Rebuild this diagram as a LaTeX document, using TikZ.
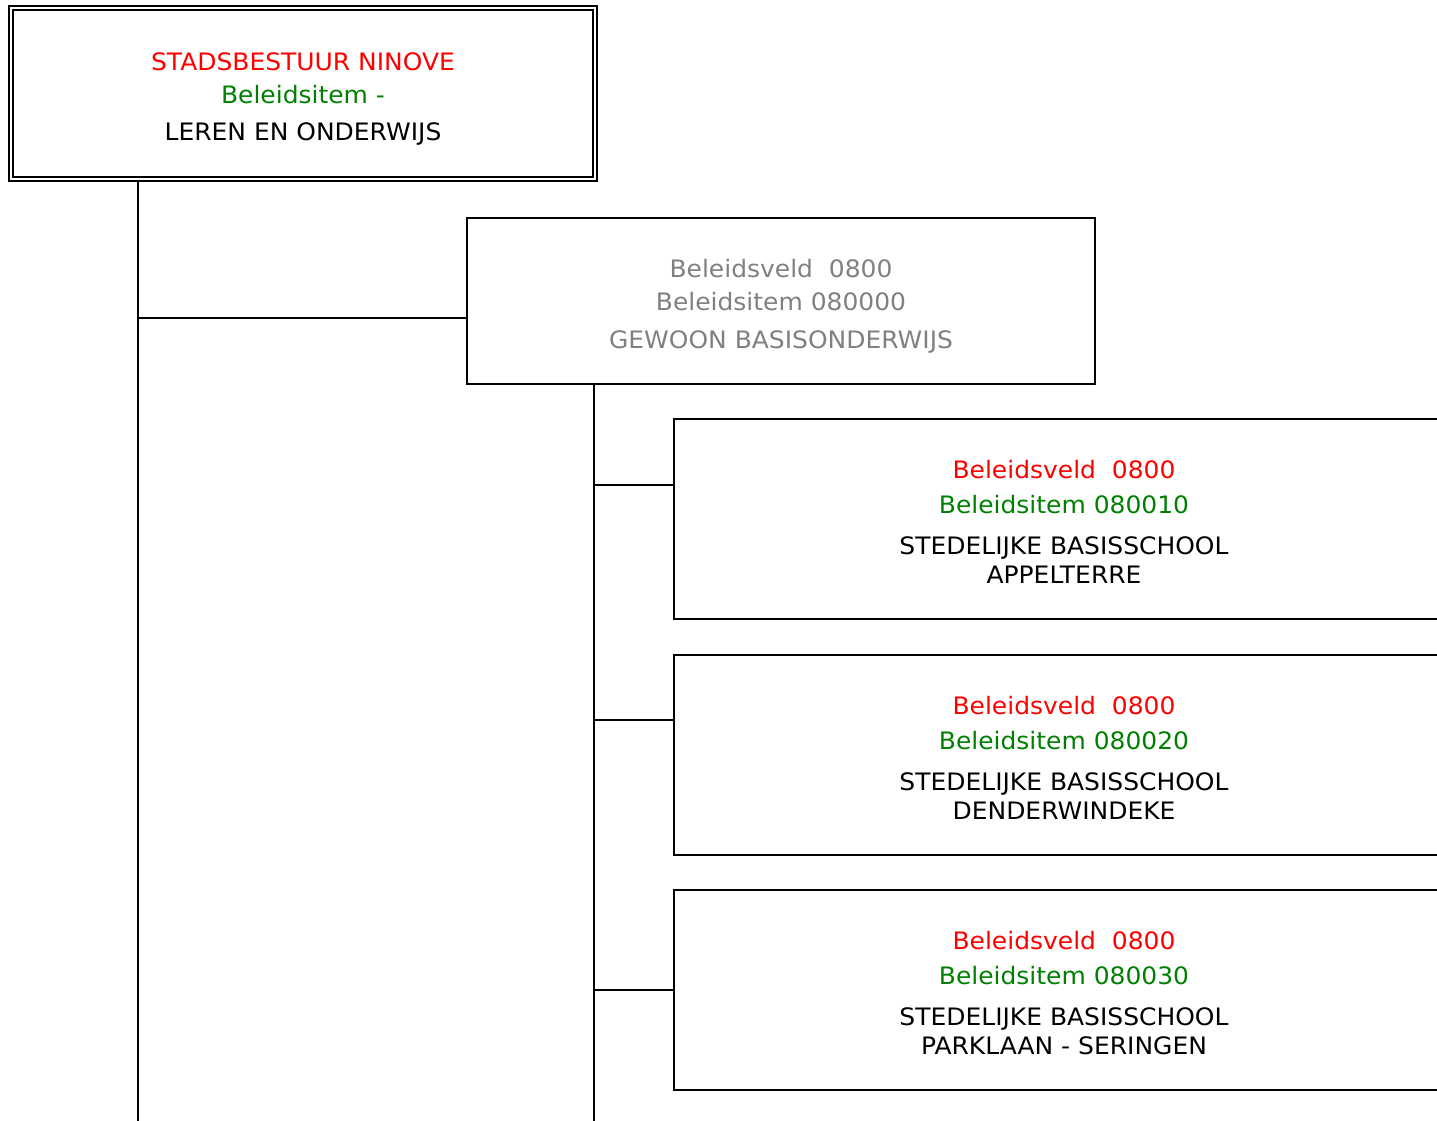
\documentclass[tikz,border=0pt]{standalone}
\usepackage{fontspec}
\setmainfont[FakeStretch=1.04]{DejaVu Sans}
\usepackage{tikz}
\usetikzlibrary{positioning}
\definecolor{veld}	{rgb}	{	1.0	,	0.0	,	0.0	}
\definecolor{item}	{rgb}	{	0.0	,	0.5	,	0.0	}
\definecolor{grijs}	{rgb}	{	0.5	,	0.5	,	0.5	}

\begin{document}
\begin{tikzpicture}[x=1pt, y=-1pt, line width=2pt,
  every node/.append style={draw, rectangle, align=center, inner sep=0pt,
    font=\fontsize{24}{29}\selectfont},
  item/.style={minimum width=780pt, minimum height=200pt}]
  \useasboundingbox (0,0) rectangle (1437,1121);

  \node (top) at (303, 93.5)
        [minimum width=584pt, minimum height=171pt, line width=1.5pt,
         double, double distance=2.5pt]
        {\rule{0pt}{28pt}\textcolor{veld}{STADSBESTUUR NINOVE}\\[4pt]
         \textcolor{item}{Beleidsitem -}\\[8pt]
         LEREN EN ONDERWIJS};

  \node (veld) at (781, 301) [minimum width=628pt, minimum height=166pt]
        {\rule{0pt}{28pt}\textcolor{grijs}{Beleidsveld\ \ 0800}\\[4pt]
         \textcolor{grijs}{Beleidsitem 080000}\\[9pt]
         \textcolor{grijs}{GEWOON BASISONDERWIJS}};

  \node (sbs1) at (1064, 519) [item]
        {\rule{0pt}{24pt}\textcolor{veld}{Beleidsveld\ \ 0800}\\[6pt]
         \textcolor{item}{Beleidsitem 080010}\\[12pt]
         STEDELIJKE BASISSCHOOL\\
         APPELTERRE};
  \node (sbs2) at (1064, 755) [item]
        {\rule{0pt}{24pt}\textcolor{veld}{Beleidsveld\ \ 0800}\\[6pt]
         \textcolor{item}{Beleidsitem 080020}\\[12pt]
         STEDELIJKE BASISSCHOOL\\
         DENDERWINDEKE};
  \node (sbs3) at (1064, 990) [item]
        {\rule{0pt}{24pt}\textcolor{veld}{Beleidsveld\ \ 0800}\\[6pt]
         \textcolor{item}{Beleidsitem 080030}\\[12pt]
         STEDELIJKE BASISSCHOOL\\
         PARKLAAN - SERINGEN};

  \coordinate (stam1) at (138, 1121);
  \coordinate (stam2) at (594, 1121);
  \coordinate (in0) at ([yshift=-17pt]veld.west);
  \coordinate (in1) at ([yshift=34pt]sbs1.west);
  \coordinate (in2) at ([yshift=35pt]sbs2.west);
  \coordinate (in3) at (sbs3.west);

  \draw (top.south -| stam1) -- (stam1);
  \draw (stam1 |- in0) -- (in0);
  \draw (veld.south -| stam2) -- (stam2);
  \draw (stam2 |- in1) -- (in1);
  \draw (stam2 |- in2) -- (in2);
  \draw (stam2 |- in3) -- (in3);
\end{tikzpicture}
\end{document}
